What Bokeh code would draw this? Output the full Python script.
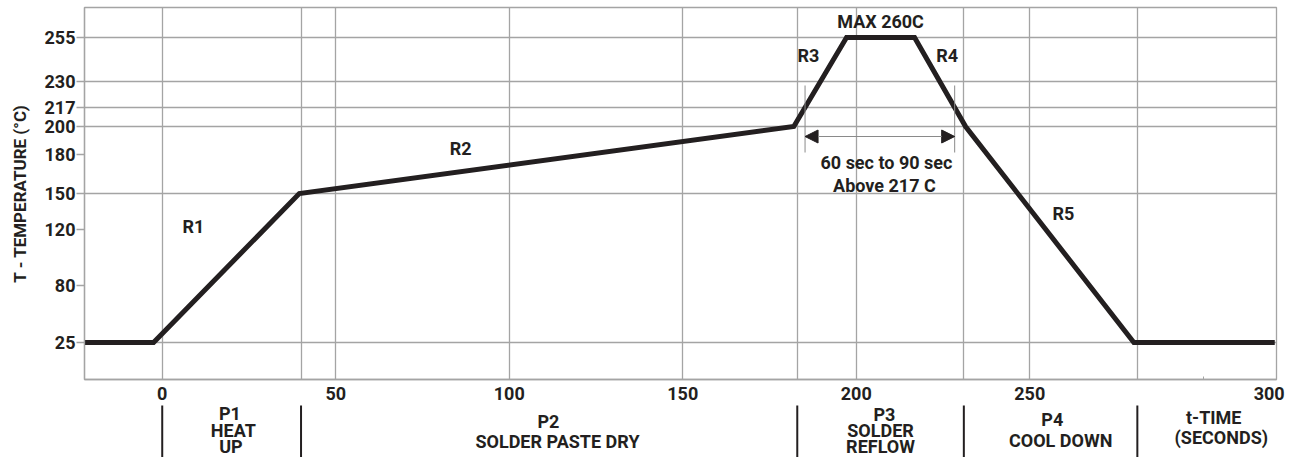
import numpy as np
from bokeh.plotting import figure
from bokeh.layouts import column
from bokeh.models import Range1d, FixedTicker, Label, Arrow, NormalHead, ColumnDataSource
from bokeh.core.properties import value
from bokeh.embed import file_html
from bokeh.resources import INLINE

# ---------------- data ----------------
PROFILE_TIME = [-22.4, -2.5, 39.5, 182.0, 197.2, 216.8, 231.5, 280.0, 320.6]   # seconds
PROFILE_TEMP = [25, 25, 150, 200, 255, 255, 200, 25, 25]                       # deg C
TEMP_TICKS = [25, 80, 120, 150, 180, 200, 217, 230, 255]
GRID_TEMPS = [25, 150, 200, 217, 230, 255]
TIME_TICKS = [0, 50, 100, 150, 200, 250]
TIME_END_TICK = 300
TIME_END_LABEL = "300"
PHASE_BOUNDS = [0, 40, 183, 231, 281]
LIQUIDUS = 217
SEGMENT_NAMES = ["R1", "R2", "R3", "R4", "R5"]
PEAK_TEXT = "MAX 260C"
TAL_TEXT = ["60 sec to 90 sec", "Above 217 C"]
PHASE_TEXT = [["P1", "HEAT", "UP"], ["P2", "SOLDER PASTE DRY"], ["P3", "SOLDER", "REFLOW"],
              ["P4", "COOL DOWN"], ["t-TIME", "(SECONDS)"]]

# ---------------- schematic (non-linear) temperature axis layout ----------------
TICK_POS = [37, 94, 150, 186, 225, 253, 272, 298, 342]   # axis position of each TEMP_TICK


def ypos(t):
    return np.interp(np.asarray(t, dtype=float), TEMP_TICKS, TICK_POS)


INK = "#231f20"
GRID = "#a4a4a4"
FONT = "Roboto"

x_range = Range1d(-22.4, 321.1)
END_LABEL_AT = 319   # where the last time label is printed (at the right border)

# ================= main chart =================
p = figure(width=1285, height=383, output_backend="svg", toolbar_location=None,
           x_range=x_range, y_range=Range1d(0, 372),
           min_border_left=84, min_border_right=9, min_border_top=7, min_border_bottom=4,
           background_fill_color="white", border_fill_color="white")
p.outline_line_color = GRID
p.outline_line_width = 1.3

p.xgrid.ticker = FixedTicker(ticks=sorted(set(TIME_TICKS + PHASE_BOUNDS)))
p.ygrid.ticker = FixedTicker(ticks=list(ypos(GRID_TEMPS)))
for g in (p.xgrid[0], p.ygrid[0]):
    g.grid_line_color = GRID
    g.grid_line_width = 1.3

yax = p.yaxis[0]
yax.ticker = FixedTicker(ticks=TICK_POS)
yax.major_label_overrides = {pos: str(t) for pos, t in zip(TICK_POS, TEMP_TICKS)}
yax.axis_label = "T - TEMPERATURE (°C)"
yax.axis_label_text_font = FONT
yax.axis_label_text_font_style = "bold"
yax.axis_label_text_font_size = "17px"
yax.axis_label_text_color = INK
yax.axis_label_standoff = 12
yax.major_label_text_font = FONT
yax.major_label_text_font_style = "bold"
yax.major_label_text_font_size = "18px"
yax.major_label_text_color = INK
yax.major_label_standoff = 1
yax.major_tick_in = 0
yax.major_tick_out = 8
yax.major_tick_line_color = GRID
yax.major_tick_line_width = 1.3
yax.minor_tick_line_color = None
yax.axis_line_color = GRID
yax.axis_line_width = 1.3

xax = p.xaxis[0]
xax.ticker = FixedTicker(ticks=[], minor_ticks=[TIME_END_TICK])
xax.major_tick_line_color = None
xax.minor_tick_in = 3
xax.minor_tick_out = 0
xax.minor_tick_line_color = GRID
xax.axis_line_color = GRID
xax.axis_line_width = 1.3
xax.major_label_standoff = 0

# profile
py = ypos(PROFILE_TEMP)
p.line(PROFILE_TIME, py, line_width=5, line_color=INK, line_join="miter", line_cap="butt")

# time above liquidus: crossings of the 217 C line by the ramps
yl = float(ypos(LIQUIDUS))
crossings = []
for i in range(len(PROFILE_TIME) - 1):
    ya, yb = py[i], py[i + 1]
    if (ya - yl) * (yb - yl) < 0:
        f = (yl - ya) / (yb - ya)
        crossings.append(PROFILE_TIME[i] + f * (PROFILE_TIME[i + 1] - PROFILE_TIME[i]))
t1, t2 = crossings[0], crossings[-1]
p.segment(x0=[t1, t2], y0=[227, 227], x1=[t1, t2], y1=[294, 294], line_color="#8a8a8a", line_width=1)
p.add_layout(Arrow(x_start=t1, y_start=243, x_end=t2, y_end=243,
                   line_color="#8a8a8a", line_width=1,
                   start=NormalHead(size=13, fill_color=INK, line_color=INK, line_width=1),
                   end=NormalHead(size=13, fill_color=INK, line_color=INK, line_width=1)))


def lab(x, y, text, size="18px"):
    p.add_layout(Label(x=x, y=y, text=text, text_font=FONT, text_font_style="bold",
                       text_font_size=size, text_color=INK, text_align="center",
                       text_baseline="middle"))


seg_xy = [(9.0, 153), (86.0, 231), (186.2, 324), (226.2, 324), (259.7, 166)]
for (x, y), s in zip(seg_xy, SEGMENT_NAMES):
    lab(x, y, s)
lab(207.0, 358, PEAK_TEXT)
lab(208.7, 217, TAL_TEXT[0])
lab(208.1, 194, TAL_TEXT[1])

# ================= time labels + phase strip =================
q = figure(width=1285, height=74, output_backend="svg", toolbar_location=None,
           x_range=x_range, y_range=Range1d(457, 405), x_axis_location="above",
           y_axis_type=None,
           min_border_left=84, min_border_right=9, min_border_top=22, min_border_bottom=0,
           background_fill_color="white", border_fill_color="white")
q.outline_line_color = None
q.grid.visible = False
qa = q.xaxis[0]
qa.ticker = FixedTicker(ticks=TIME_TICKS + [END_LABEL_AT], minor_ticks=[])
qa.major_label_overrides = {END_LABEL_AT: TIME_END_LABEL}
qa.major_label_text_font = FONT
qa.major_label_text_font_style = "bold"
qa.major_label_text_font_size = "18px"
qa.major_label_text_color = INK
qa.major_label_standoff = 0
qa.major_tick_line_color = None
qa.minor_tick_line_color = None
qa.axis_line_color = None

q.segment(x0=PHASE_BOUNDS, y0=[403] * len(PHASE_BOUNDS), x1=PHASE_BOUNDS,
          y1=[467] * len(PHASE_BOUNDS), line_color=INK, line_width=2)

phase_pos = [
    [(19.5, 413), (20.5, 430), (19.8, 446)],
    [(111.3, 421), (113.9, 441)],
    [(208.1, 414), (207.0, 430), (207.0, 446)],
    [(256.5, 419), (258.9, 440)],
    [(303.0, 417), (305.2, 437)],
]
px, pyy, pt = [], [], []
for lines, poss in zip(PHASE_TEXT, phase_pos):
    for t, (x, y) in zip(lines, poss):
        px.append(x)
        pyy.append(y)
        pt.append(t)
q.text(x="x", y="y", text="text", source=ColumnDataSource(dict(x=px, y=pyy, text=pt)),
       text_font=value(FONT), text_font_style="bold", text_font_size="18px",
       text_color=INK, text_align="center", text_baseline="middle")

open("out.html", "w").write(file_html(column(p, q, spacing=0), INLINE))
